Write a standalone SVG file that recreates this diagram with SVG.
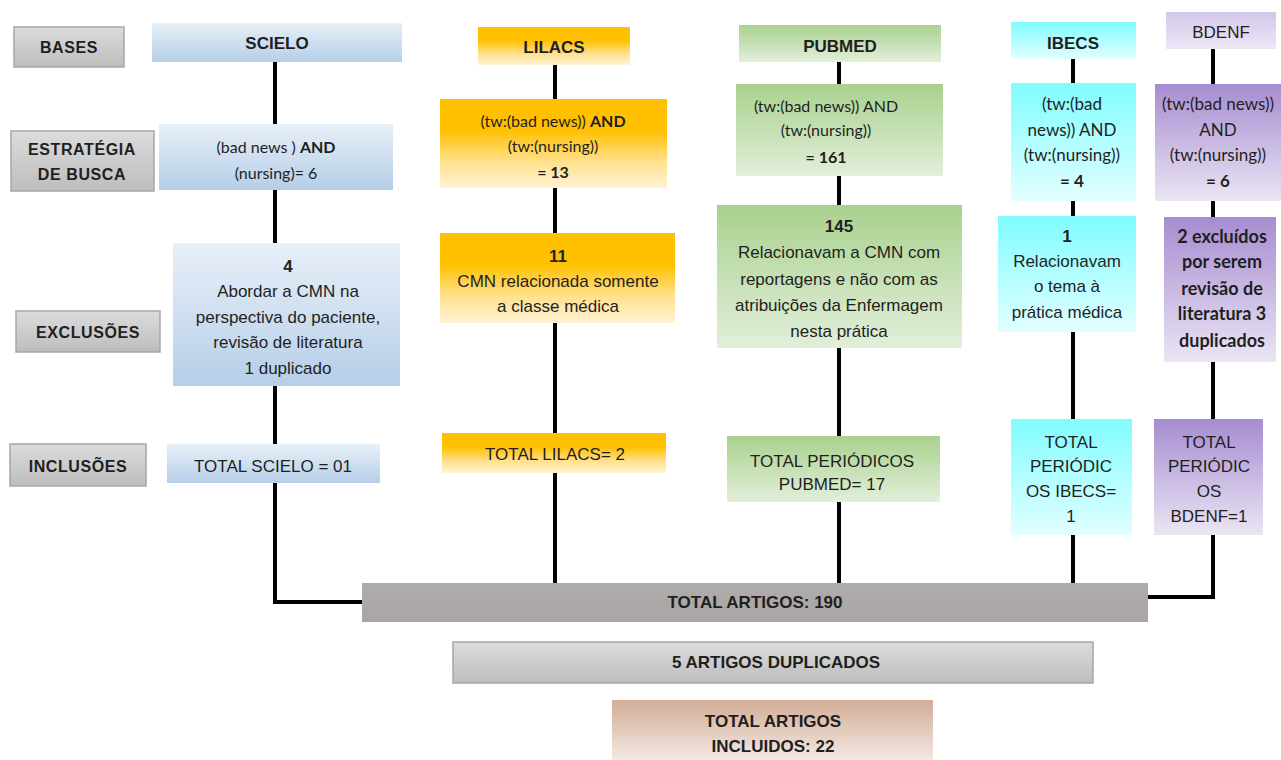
<svg xmlns="http://www.w3.org/2000/svg" width="1281" height="760" viewBox="0 0 1281 760">
<defs>
<linearGradient id="gGray" x1="0" y1="0" x2="0" y2="1"><stop offset="0" stop-color="#dcdcdc"/><stop offset="1" stop-color="#bdbdbd"/></linearGradient>
<linearGradient id="gBlue" x1="0" y1="0" x2="0" y2="1"><stop offset="0" stop-color="#e8f0f8"/><stop offset="1" stop-color="#b6cee8"/></linearGradient>
<linearGradient id="gOrange" x1="0" y1="0" x2="0" y2="1"><stop offset="0" stop-color="#ffc000"/><stop offset="0.35" stop-color="#ffc000"/><stop offset="0.7" stop-color="#ffe08c"/><stop offset="1" stop-color="#fff3d4"/></linearGradient>
<linearGradient id="gGreen" x1="0" y1="0" x2="0" y2="1"><stop offset="0" stop-color="#a9d18e"/><stop offset="1" stop-color="#e2efda"/></linearGradient>
<linearGradient id="gCyan" x1="0" y1="0" x2="0" y2="1"><stop offset="0" stop-color="#80fcff"/><stop offset="1" stop-color="#e2ffff"/></linearGradient>
<linearGradient id="gPurple" x1="0" y1="0" x2="0" y2="1"><stop offset="0" stop-color="#a68cd0"/><stop offset="1" stop-color="#ebe5f4"/></linearGradient>
<linearGradient id="gPurpleL" x1="0" y1="0" x2="0" y2="1"><stop offset="0" stop-color="#d3c6ea"/><stop offset="1" stop-color="#ede8f6"/></linearGradient>
<linearGradient id="gDark" x1="0" y1="0" x2="0" y2="1"><stop offset="0" stop-color="#b0acab"/><stop offset="1" stop-color="#a9a5a4"/></linearGradient>
<linearGradient id="gBrown" x1="0" y1="0" x2="0" y2="1"><stop offset="0" stop-color="#d2ad97"/><stop offset="1" stop-color="#f3e8e2"/></linearGradient>
<style>
text{font-family:"Liberation Sans",Arial,sans-serif;font-size:17px;fill:#1f1f1f;text-anchor:middle}
.b{font-weight:bold}
.lab{font-weight:bold;font-size:16px;letter-spacing:0.6px}
.cal{font-family:Lato,"Open Sans",sans-serif;font-size:16px}
.cal2{font-family:Lato,"Open Sans",sans-serif;font-size:17px}
.calb{font-family:Lato,"Open Sans",sans-serif;font-size:18px;font-weight:bold}
.lbox{fill:url(#gGray);stroke:#a6a6a6;stroke-width:1.5}
.conn{fill:none;stroke:#000;stroke-width:4}
</style>
</defs>
<rect width="1281" height="760" fill="#fff"/>

<g id="connectors">
<path class="conn" d="M275,62V124M275,190V243M275,386V444M275,483V602H362"/>
<path class="conn" d="M555,65V99M555,188V233M555,323V433M555,473V583"/>
<path class="conn" d="M839,62V84M839,176V205M839,348V436M839,502V583"/>
<path class="conn" d="M1073,59V83M1073,201V216M1073,332V419M1073,535V583"/>
<path class="conn" d="M1213,49V84M1213,201V217M1213,362V419M1213,535V597H1148"/>
</g>

<g id="lab-bases"><rect class="lbox" x="14" y="27" width="110" height="40"/><text class="lab" x="69" y="53">BASES</text></g>
<g id="lab-estrategia"><rect class="lbox" x="11" y="131" width="143" height="60"/><text class="lab" x="82" y="155">ESTRATÉGIA</text><text class="lab" x="82" y="180">DE BUSCA</text></g>
<g id="lab-exclusoes"><rect class="lbox" x="16" y="311" width="144" height="41"/><text class="lab" x="88" y="338">EXCLUSÕES</text></g>
<g id="lab-inclusoes"><rect class="lbox" x="10" y="444" width="136" height="42"/><text class="lab" x="78" y="472">INCLUSÕES</text></g>

<g id="scielo-base"><rect x="152" y="23" width="250" height="39" fill="url(#gBlue)"/><text class="b" x="277" y="49">SCIELO</text></g>
<g id="scielo-busca"><rect x="159" y="124" width="234" height="66" fill="url(#gBlue)"/><text class="cal" x="276" y="153">(bad news ) <tspan font-weight="bold">AND</tspan></text><text class="cal" x="276" y="179">(nursing)= 6</text></g>
<g id="scielo-excl"><rect x="173" y="243" width="227" height="143" fill="url(#gBlue)"/><text class="b" x="288" y="272">4</text><text x="288" y="297">Abordar a CMN na</text><text x="288" y="323">perspectiva do paciente,</text><text x="288" y="348">revisão de literatura</text><text x="288" y="374">1 duplicado</text></g>
<g id="scielo-total"><rect x="167" y="444" width="213" height="39" fill="url(#gBlue)"/><text x="273" y="472">TOTAL SCIELO = 01</text></g>

<g id="lilacs-base"><rect x="478" y="27" width="152" height="38" fill="url(#gOrange)"/><text class="b" x="554" y="53">LILACS</text></g>
<g id="lilacs-busca"><rect x="440" y="99" width="227" height="89" fill="url(#gOrange)"/><text class="cal" x="553" y="127">(tw:(bad news)) <tspan font-weight="bold">AND</tspan></text><text class="cal" x="553" y="152">(tw:(nursing))</text><text class="cal" font-weight="bold" x="553" y="178">= 13</text></g>
<g id="lilacs-excl"><rect x="440" y="233" width="235" height="90" fill="url(#gOrange)"/><text class="b" x="558" y="262">11</text><text x="558" y="287">CMN relacionada somente</text><text x="558" y="312">a classe médica</text></g>
<g id="lilacs-total"><rect x="442" y="433" width="224" height="40" fill="url(#gOrange)"/><text x="555" y="460">TOTAL LILACS= 2</text></g>

<g id="pubmed-base"><rect x="739" y="25" width="202" height="37" fill="url(#gGreen)"/><text class="b" x="840" y="52">PUBMED</text></g>
<g id="pubmed-busca"><rect x="736" y="84" width="207" height="92" fill="url(#gGreen)"/><text class="cal" x="826" y="112">(tw:(bad news)) AND</text><text class="cal" x="826" y="136">(tw:(nursing))</text><text class="cal" font-weight="bold" x="826" y="163">= 161</text></g>
<g id="pubmed-excl"><rect x="717" y="205" width="245" height="143" fill="url(#gGreen)"/><text class="b" x="839" y="232">145</text><text x="839" y="258">Relacionavam a CMN com</text><text x="839" y="285">reportagens e não com as</text><text x="839" y="311">atribuições da Enfermagem</text><text x="839" y="337">nesta prática</text></g>
<g id="pubmed-total"><rect x="727" y="436" width="213" height="66" fill="url(#gGreen)"/><text x="832" y="467">TOTAL PERIÓDICOS</text><text x="832" y="490">PUBMED= 17</text></g>

<g id="ibecs-base"><rect x="1011" y="22" width="125" height="37" fill="url(#gCyan)"/><text class="b" x="1073" y="49">IBECS</text></g>
<g id="ibecs-busca"><rect x="1011" y="83" width="125" height="118" fill="url(#gCyan)"/><text class="cal2" x="1072" y="110">(tw:(bad</text><text class="cal2" x="1072" y="136">news)) AND</text><text class="cal2" x="1072" y="161">(tw:(nursing))</text><text class="cal2" font-weight="bold" x="1072" y="187">= 4</text></g>
<g id="ibecs-excl"><rect x="998" y="216" width="138" height="116" fill="url(#gCyan)"/><text class="b" x="1067" y="242">1</text><text x="1067" y="267">Relacionavam</text><text x="1067" y="292">o tema à</text><text x="1067" y="318">prática médica</text></g>
<g id="ibecs-total"><rect x="1011" y="419" width="121" height="116" fill="url(#gCyan)"/><text x="1071" y="448">TOTAL</text><text x="1071" y="472">PERIÓDIC</text><text x="1071" y="497">OS IBECS=</text><text x="1071" y="522">1</text></g>

<g id="bdenf-base"><rect x="1166" y="12" width="110" height="37" fill="url(#gPurpleL)"/><text x="1221" y="38">BDENF</text></g>
<g id="bdenf-busca"><rect x="1155" y="84" width="126" height="117" fill="url(#gPurple)"/><text class="cal2" x="1218" y="110">(tw:(bad news))</text><text class="cal2" x="1218" y="136">AND</text><text class="cal2" x="1218" y="161">(tw:(nursing))</text><text class="cal2" font-weight="bold" x="1218" y="187">= 6</text></g>
<g id="bdenf-excl"><rect x="1164" y="217" width="112" height="145" fill="url(#gPurple)"/><text class="calb" x="1222" y="243">2 excluídos</text><text class="calb" x="1222" y="268">por serem</text><text class="calb" x="1222" y="295">revisão de</text><text class="calb" x="1222" y="320">literatura 3</text><text class="calb" x="1222" y="347">duplicados</text></g>
<g id="bdenf-total"><rect x="1154" y="419" width="109" height="116" fill="url(#gPurple)"/><text x="1209" y="448">TOTAL</text><text x="1209" y="472">PERIÓDIC</text><text x="1209" y="497">OS</text><text x="1209" y="522">BDENF=1</text></g>

<g id="total-artigos"><rect x="362" y="583" width="786" height="39" fill="url(#gDark)"/><text class="b" x="755" y="608">TOTAL ARTIGOS: 190</text></g>
<g id="duplicados"><rect x="453" y="642" width="640" height="41" fill="url(#gGray)" stroke="#a6a6a6" stroke-width="1.5"/><text class="b" x="776" y="668">5 ARTIGOS DUPLICADOS</text></g>
<g id="incluidos"><rect x="612" y="700" width="321" height="60" fill="url(#gBrown)"/><text class="b" x="773" y="727">TOTAL ARTIGOS</text><text class="b" x="773" y="752">INCLUIDOS: 22</text></g>
</svg>
